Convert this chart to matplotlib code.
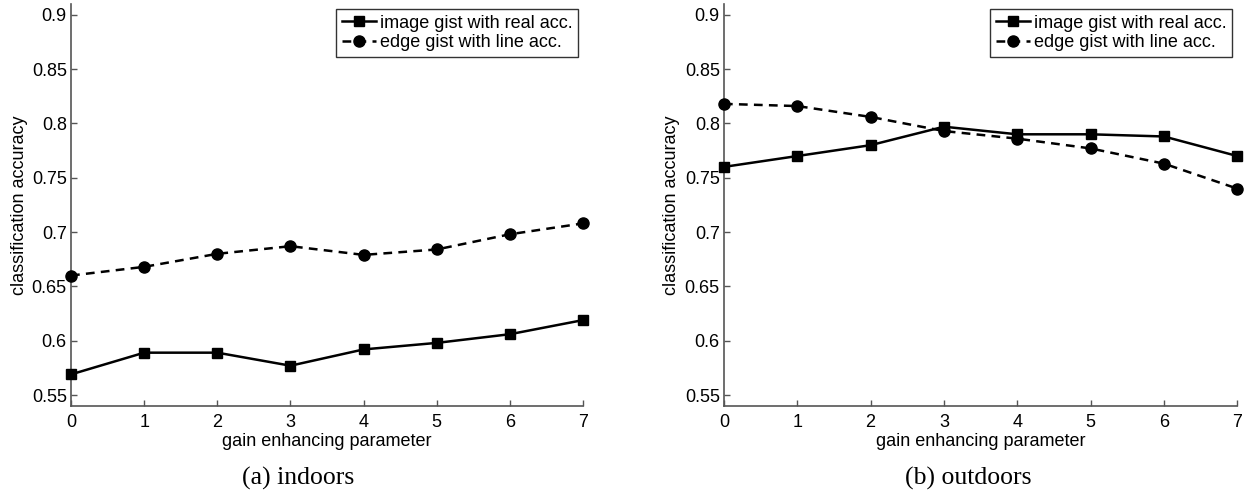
import numpy as np
import matplotlib.pyplot as plt

# gain enhancing parameter
gain = [0, 1, 2, 3, 4, 5, 6, 7]

# (a) indoors
indoor_image = [0.569, 0.589, 0.589, 0.577, 0.592, 0.598, 0.606, 0.619]
indoor_edge = [0.660, 0.668, 0.680, 0.687, 0.679, 0.684, 0.698, 0.708]

# (b) outdoors
outdoor_image = [0.760, 0.770, 0.780, 0.797, 0.790, 0.790, 0.788, 0.770]
outdoor_edge = [0.818, 0.816, 0.806, 0.793, 0.786, 0.777, 0.763, 0.740]

yticks = [0.55, 0.6, 0.65, 0.7, 0.75, 0.8, 0.85, 0.9]
ytick_labels = ["0.55", "0.6", "0.65", "0.7", "0.75", "0.8", "0.85", "0.9"]
captions = ["(a) indoors", "(b) outdoors"]
legend_labels = ["image gist with real acc.", "edge gist with line acc."]

plt.rcParams['font.family'] = ['Liberation Sans', 'DejaVu Sans']

fig = plt.figure(figsize=(12.46, 4.92), dpi=100)
ax_l = fig.add_axes([0.057, 0.175, 0.411, 0.817])
ax_r = fig.add_axes([0.581, 0.175, 0.412, 0.817])

cap_x = [298 / 1246, 968 / 1246]
panels = [(ax_l, indoor_image, indoor_edge), (ax_r, outdoor_image, outdoor_edge)]
for i, (ax, img, edge) in enumerate(panels):
	ax.plot(gain, img, '-', color='black', lw=1.8, marker='s', ms=6.5,
		label=legend_labels[0], clip_on=False, zorder=3)
	ax.plot(gain, edge, '--', color='black', lw=1.8, marker='o', ms=8,
		dashes=(3.5, 2.5), label=legend_labels[1], clip_on=False, zorder=3)
	ax.set_xlim(0, 7)
	ax.set_ylim(0.54, 0.91)
	ax.set_xticks(gain)
	ax.set_yticks(yticks)
	ax.set_yticklabels(ytick_labels)
	ax.spines['top'].set_visible(False)
	ax.spines['right'].set_visible(False)
	for s in ['left', 'bottom']:
		ax.spines[s].set_color('#555555')
		ax.spines[s].set_linewidth(1.2)
	ax.tick_params(direction='in', length=4, width=1, color='#555555', labelsize=13)
	ax.tick_params(axis='x', pad=6)
	ax.tick_params(axis='y', pad=3)
	ax.set_xlabel("gain enhancing parameter", fontsize=13, labelpad=1)
	ax.set_ylabel("classification accuracy", fontsize=13, labelpad=3)
	leg = ax.legend(loc='upper right', fontsize=13, frameon=True, fancybox=False,
		handlelength=1.9, handletextpad=0.2, borderpad=0.3, labelspacing=0.15,
		borderaxespad=0.3)
	leg.get_frame().set_edgecolor('black')
	leg.get_frame().set_linewidth(1.0)
	fig.text(cap_x[i], 0.0285, captions[i], ha='center', va='center',
		fontsize=18.5, family='Liberation Serif')

plt.savefig('out.png', dpi=100)
